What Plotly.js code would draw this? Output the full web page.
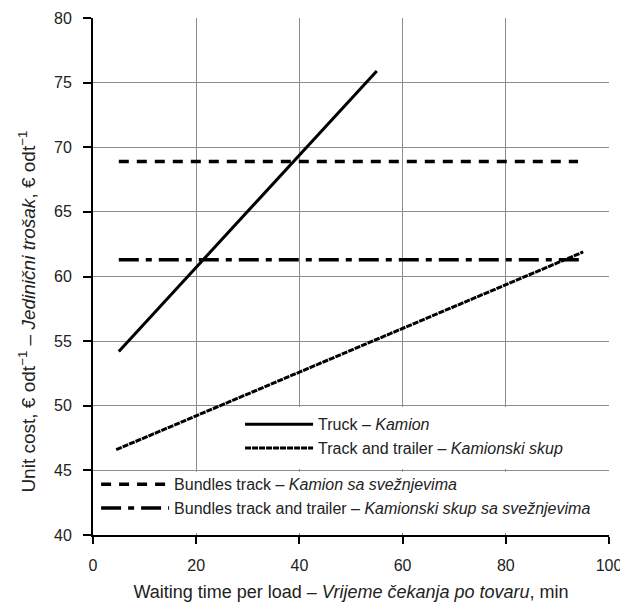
<!DOCTYPE html>
<html>
<head>
<meta charset="utf-8">
<script src="https://cdn.plot.ly/plotly-3.0.1.min.js"></script>
<style>html,body{margin:0;padding:0;background:#fff;}#chart{width:620px;height:603px;}</style>
</head>
<body>
<div id="chart"></div>
<script>
// ---- data ----
var seriesNames = [
  'Truck – <i>Kamion</i>',
  'Track and trailer – <i>Kamionski skup</i>',
  'Bundles track – <i>Kamion sa svežnjevima</i>',
  'Bundles track and trailer – <i>Kamionski skup sa svežnjevima</i>'
];
var truckX = [5, 55];
var truckY = [54.2, 75.9];
var trailerX = [4.5, 95];
var trailerY = [46.6, 61.9];
var bundlesTruckX = [5, 94];
var bundlesTruckY = [68.9, 68.9];
var bundlesTrailerX = [5, 95.5];
var bundlesTrailerY = [61.3, 61.3];
var xTicks = [0, 20, 40, 60, 80, 100];
var yTicks = [40, 45, 50, 55, 60, 65, 70, 75, 80];
var xTitle = 'Waiting time per load – <i>Vrijeme čekanja po tovaru</i>, min';
var yTitle = 'Unit cost, € odt<sup>−1</sup> – <i>Jedinični trošak</i>, € odt<sup>−1</sup>';

var FONT = 'Liberation Sans, Arial, sans-serif';

var traces = [
  {x: truckX, y: truckY, name: seriesNames[0], mode: 'lines', legend: 'legend',
   line: {color: '#000', width: 3, dash: 'solid'}},
  {x: trailerX, y: trailerY, name: seriesNames[1], mode: 'lines', legend: 'legend',
   line: {color: '#000', width: 3, dash: '6px,1px'}},
  {x: bundlesTruckX, y: bundlesTruckY, name: seriesNames[2], mode: 'lines', legend: 'legend2',
   line: {color: '#000', width: 3.5, dash: '10px,8px'}},
  {x: bundlesTrailerX, y: bundlesTrailerY, name: seriesNames[3], mode: 'lines', legend: 'legend2',
   line: {color: '#000', width: 3.5, dash: '20px,7px,6px,7px'}}
];

var layout = {
  width: 620, height: 603,
  margin: {l: 93, r: 11, t: 18, b: 68, pad: 0},
  paper_bgcolor: '#fff', plot_bgcolor: '#fff',
  font: {family: FONT, size: 16, color: '#222'},
  showlegend: true,
  xaxis: {
    range: [0, 100], tickvals: xTicks, ticktext: xTicks.map(String),
    showgrid: true, gridcolor: '#8c8c8c', gridwidth: 1,
    showline: true, linecolor: '#000', linewidth: 2,
    ticks: 'outside', ticklen: 7, tickcolor: '#000', tickwidth: 2,
    ticklabelstandoff: 8, ticklabeloverflow: 'allow',
    tickfont: {family: FONT, size: 16, color: '#222'},
    zeroline: false, automargin: false,
    title: {text: xTitle, font: {family: FONT, size: 18, color: '#222'}, standoff: 12}
  },
  yaxis: {
    range: [40, 80], tickvals: yTicks, ticktext: yTicks.map(String),
    showgrid: true, gridcolor: '#8c8c8c', gridwidth: 1,
    showline: true, linecolor: '#000', linewidth: 2,
    ticks: 'outside', ticklen: 8, tickcolor: '#000', tickwidth: 2,
    ticklabelstandoff: 8,
    tickfont: {family: FONT, size: 16, color: '#222'},
    zeroline: false, automargin: false
  },
  annotations: [
    {text: yTitle, xref: 'paper', yref: 'paper', x: -0.128, y: 0.432,
     xanchor: 'center', yanchor: 'middle', textangle: -90, showarrow: false,
     font: {family: FONT, size: 19, color: '#222'}}
  ],
  legend: {
    x: 0.285, y: 0.191, xanchor: 'left', yanchor: 'middle',
    bgcolor: 'rgba(0,0,0,0)', borderwidth: 0, itemwidth: 68,
    tracegroupgap: 0, font: {family: FONT, size: 16, color: '#222'}
  },
  legend2: {
    x: 0.006, y: 0.075, xanchor: 'left', yanchor: 'middle',
    bgcolor: 'rgba(0,0,0,0)', borderwidth: 0, itemwidth: 68,
    tracegroupgap: 0, font: {family: FONT, size: 16, color: '#222'}
  },
  shapes: [
    {type: 'rect', xref: 'x', yref: 'y', x0: 23.7, x1: 99.8, y0: 45.1, y1: 49.9,
     fillcolor: '#fff', line: {width: 0}, layer: 'between'},
    {type: 'rect', xref: 'x', yref: 'y', x0: 0.4, x1: 99.8, y0: 40.15, y1: 44.9,
     fillcolor: '#fff', line: {width: 0}, layer: 'between'}
  ]
};

Plotly.newPlot('chart', traces, layout, {displayModeBar: false, staticPlot: true});
</script>
</body>
</html>
